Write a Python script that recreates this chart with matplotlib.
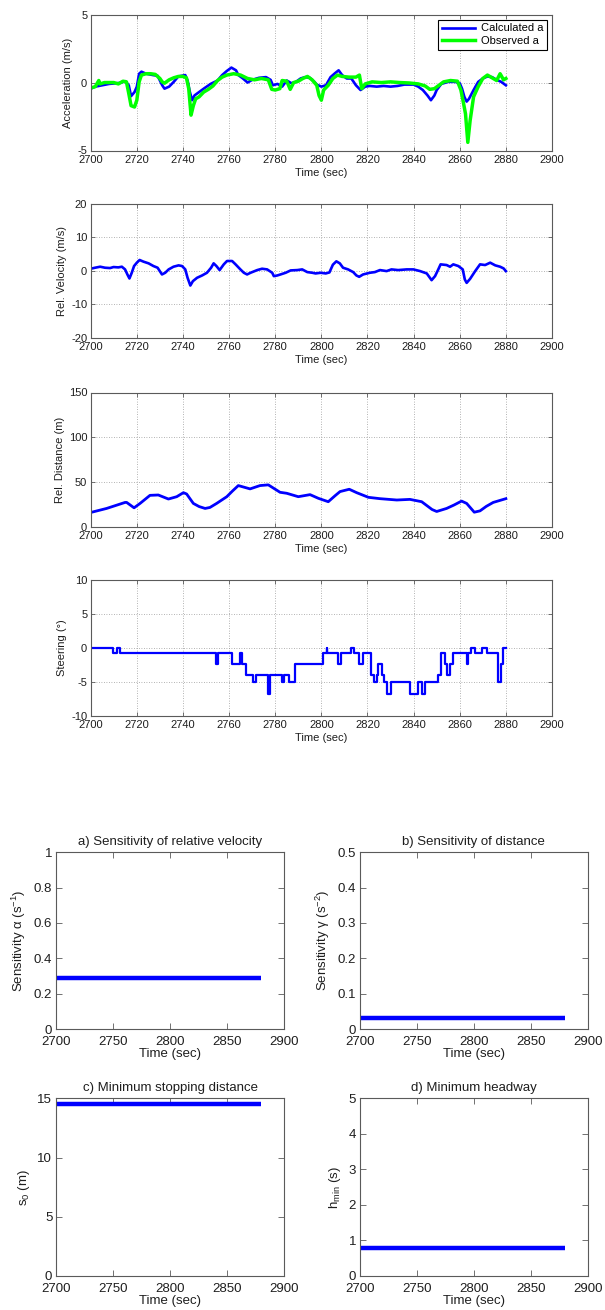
import matplotlib
matplotlib.use("Agg")
import matplotlib.pyplot as plt
from matplotlib.ticker import FuncFormatter

plt.rcParams['font.family'] = ['Liberation Sans', 'DejaVu Sans']
plt.rcParams['mathtext.fontset'] = 'custom'
plt.rcParams['mathtext.rm'] = 'Liberation Sans'
plt.rcParams['mathtext.it'] = 'Liberation Sans:italic'
plt.rcParams['axes.unicode_minus'] = False

# ---------------- data ----------------
# Acceleration: calculated (model) and observed
acc_calc_t = [2700, 2702, 2705, 2708, 2710, 2713, 2715, 2716.5, 2717.5, 2719,
              2720, 2721, 2722, 2724, 2727, 2729, 2731, 2732, 2734, 2736,
              2738, 2741, 2742, 2743, 2744, 2745, 2747, 2749, 2752, 2755,
              2757, 2759, 2761, 2763, 2764, 2766, 2768, 2770, 2773, 2776,
              2778, 2779, 2781, 2783, 2785, 2787, 2789, 2791, 2793, 2795,
              2797, 2798, 2800, 2802, 2804, 2806, 2807.5, 2809, 2811, 2813,
              2815, 2817, 2819, 2821, 2824, 2827, 2830, 2833, 2836, 2840,
              2842, 2844, 2846, 2847.5, 2849, 2850, 2852, 2855, 2858, 2860,
              2861, 2862, 2863, 2864, 2866, 2868, 2870, 2872, 2874, 2876,
              2878, 2880]
acc_calc = [-0.45, -0.3, -0.2, -0.1, -0.07, -0.02, 0.1, -0.2, -1.0, -0.7,
            -0.3, 0.65, 0.8, 0.65, 0.55, 0.5, -0.2, -0.45, -0.3, 0.05,
            0.45, 0.55, 0.15, -0.7, -1.3, -0.95, -0.7, -0.45, -0.1, 0.15,
            0.55, 0.85, 1.1, 0.9, 0.55, 0.3, 0.0, 0.2, 0.35, 0.4,
            0.2, -0.2, -0.1, -0.3, 0.15, -0.05, 0.05, 0.3, 0.4, 0.35,
            0.05, -0.15, -0.3, -0.2, 0.4, 0.7, 0.9, 0.55, 0.3, 0.3,
            -0.2, -0.55, -0.3, -0.25, -0.3, -0.25, -0.3, -0.25, -0.15, -0.15,
            -0.3, -0.55, -0.95, -1.3, -0.95, -0.55, -0.1, 0.05, 0.05, -0.05,
            -0.45, -1.05, -1.4, -1.2, -0.55, 0.05, 0.3, 0.45, 0.4, 0.2,
            0.05, -0.2]

acc_obs_t = [2700, 2702, 2703.5, 2704, 2706, 2708, 2710, 2712, 2714, 2715.5,
             2716.5, 2717.5, 2719, 2720, 2721, 2722, 2724, 2726, 2728, 2730,
             2731, 2732, 2734, 2736, 2738, 2740, 2741.5, 2742.5, 2743.5, 2744.5,
             2745.5, 2747, 2749, 2751, 2753, 2755, 2757, 2759, 2762, 2765,
             2768, 2771, 2774, 2777, 2778.5, 2780, 2782, 2783, 2785, 2786.5,
             2788, 2790, 2792, 2794, 2796, 2798, 2799, 2800, 2801, 2803,
             2805, 2807, 2809, 2812, 2815, 2816.5, 2817.5, 2819, 2822, 2826,
             2830, 2834, 2838, 2842, 2845, 2847, 2849, 2851, 2853, 2856,
             2859, 2860.5, 2861.5, 2862.5, 2863.5, 2864.5, 2866, 2868, 2870, 2872,
             2874, 2876, 2877.5, 2879, 2880]
acc_obs = [-0.4, -0.3, 0.15, -0.1, 0, 0, 0, -0.1, 0.1, 0.05,
           -0.8, -1.7, -1.8, -1.3, 0.05, 0.55, 0.65, 0.65, 0.6, 0.3,
           0.05, -0.05, 0.2, 0.35, 0.45, 0.45, 0.35, -0.45, -2.4, -1.7,
           -1.2, -1.05, -0.7, -0.5, -0.25, 0.15, 0.4, 0.55, 0.65, 0.55,
           0.3, 0.2, 0.3, 0.2, -0.5, -0.55, -0.45, 0.15, 0.1, -0.5,
           0, 0.1, 0.3, 0.45, 0.2, -0.2, -0.95, -1.3, -0.55, -0.2,
           0.3, 0.55, 0.45, 0.4, 0.4, 0.55, -0.45, -0.1, 0.05, 0,
           0.05, 0, -0.03, -0.1, -0.25, -0.5, -0.45, -0.2, 0.05, 0.15,
           0.1, -0.55, -1.4, -2.3, -4.4, -2.8, -1.05, -0.3, 0.3, 0.55,
           0.35, 0.15, 0.65, 0.2, 0.3]

# Relative velocity (m/s)
vel_t = [2700, 2701.9, 2704.1, 2706.2, 2708.4, 2709.9, 2712, 2713.5, 2714.9, 2715.9,
         2716.8, 2717.8, 2718.8, 2720, 2721.2, 2722.9, 2725.1, 2727.2, 2729, 2730.9,
         2732.3, 2733.8, 2735.9, 2738.1, 2739.6, 2741, 2742, 2743.2, 2744.3, 2746.1,
         2748.3, 2750.4, 2752.2, 2753.3, 2754.5, 2755.9, 2757.7, 2759.1, 2761.3, 2762.8,
         2764.9, 2766.4, 2767.8, 2769.3, 2772.2, 2774.3, 2776.5, 2778.7, 2779.4, 2780.9,
         2782.3, 2784.5, 2786.7, 2789.6, 2791.7, 2793.9, 2796.1, 2797.5, 2799.7, 2801.9,
         2803.5, 2805, 2806.5, 2808, 2809.4, 2811.6, 2813.8, 2815.2, 2816.4, 2818.1,
         2821, 2823.2, 2825.4, 2828.3, 2830.4, 2833.3, 2837, 2839.9, 2842.8, 2845.7,
         2847.8, 2849.3, 2850.7, 2851.7, 2854.3, 2855.8, 2857.2, 2859.4, 2861.3, 2862.2,
         2863, 2864.5, 2866.7, 2868.8, 2871, 2873.2, 2875.4, 2877.5, 2879, 2880]
vel = [0.6, 0.9, 1.2, 0.9, 0.8, 1.1, 1.0, 1.2, 0.4, -1.1,
       -2.3, -0.6, 1.4, 2.4, 3.2, 2.7, 2.2, 1.4, 0.9, -1.1,
       -0.6, 0.4, 1.2, 1.6, 1.4, 0.4, -2.1, -4.4, -3.1, -2.1,
       -1.4, -0.6, 0.9, 2.2, 1.4, 0.2, 1.9, 2.9, 2.9, 1.9,
       0.4, -0.6, -1.1, -0.6, 0.2, 0.6, 0.4, -0.6, -1.6, -1.4,
       -1.1, -0.6, 0.1, 0.2, 0.4, -0.4, -0.6, -0.8, -0.6, -0.8,
       -0.5, 1.8, 2.8, 2.2, 0.9, 0.4, -0.4, -1.4, -1.8, -1.1,
       -0.6, -0.4, 0.2, -0.1, 0.4, 0.2, 0.4, 0.4, -0.1, -0.8,
       -2.8, -1.6, 0.4, 1.9, 1.7, 1.2, 1.9, 1.4, 0.4, -2.6,
       -3.6, -2.4, -0.1, 1.9, 1.7, 2.4, 1.6, 1.2, 0.7, -0.1]

# Relative distance (m)
dist_t = [2700, 2706.9, 2714.9, 2715.6, 2718.8, 2721.4, 2725.7, 2729.3, 2733.7, 2737.3,
          2740.2, 2741.6, 2744.5, 2747, 2749.6, 2751.7, 2754.6, 2759, 2761.5, 2764,
          2769.1, 2773.4, 2777, 2782.1, 2785, 2790, 2795.1, 2798.7, 2803, 2806,
          2808.1, 2812.1, 2815.3, 2820.4, 2825.4, 2832.7, 2838.4, 2843.5, 2846.4, 2848,
          2850, 2854.3, 2857.5, 2860.8, 2863, 2866.3, 2868.8, 2871.5, 2874.5, 2880]
dist = [16.2, 20.7, 27.4, 27.4, 21.4, 26.3, 35.3, 35.7, 31.2, 33.8,
        38.3, 36.8, 26.3, 22.8, 20.7, 21.8, 26.3, 33.8, 40.2, 46.2,
        42.5, 46.2, 47, 38.7, 37.6, 33.8, 36.1, 32, 28.2, 35,
        39.5, 42.1, 38.3, 33.1, 31.6, 30.1, 30.8, 28.2, 22.6, 19.5,
        17.3, 20.7, 24.5, 28.9, 26.3, 16.5, 18, 23, 27.4, 31.6]

# Steering angle (deg), piecewise constant: value holds from each time onward
steer_t = [2700, 2709.8, 2711.3, 2712.7, 2754.3, 2755.2, 2761.1, 2764.7, 2765.8, 2767.3,
           2770.5, 2771.5, 2776.7, 2777.7, 2782.8, 2783.8, 2786.1, 2788.6, 2800.9, 2802.3,
           2802.6, 2807.4, 2808.4, 2812.7, 2814.2, 2816.5, 2817.9, 2821.4, 2822.8, 2824,
           2824.7, 2826.2, 2827.2, 2828.3, 2830.1, 2838.4, 2842.1, 2843.5, 2844.9, 2850.7,
           2851.7, 2853.6, 2854.6, 2855.8, 2857.2, 2863, 2863.7, 2864.7, 2866.6, 2869.5,
           2871.7, 2876.7, 2877.7, 2878.9, 2880]
steer = [0, -0.7, 0, -0.7, -2.3, -0.7, -2.3, -0.7, -2.3, -4,
         -5, -4, -6.7, -4, -5, -4, -5, -2.3, -0.7, 0,
         -0.7, -2.3, -0.7, 0, -0.7, -2.3, -0.7, -4, -5, -4,
         -2.3, -4, -5, -6.7, -5, -6.7, -5, -6.7, -5, -4,
         -0.7, -2.3, -4, -2.3, -0.7, -2.3, -0.7, 0, -0.7, 0,
         -0.7, -5, -2.3, 0, 0]

# Calibrated model parameters over the run
param_t = [2700, 2880]
alpha = 0.29      # sensitivity of relative velocity (1/s)
gamma = 0.032     # sensitivity of distance (1/s^2)
s0 = 14.55        # minimum stopping distance (m)
hmin = 0.79       # minimum headway (s)

# ---------------- styling ----------------
BLUE = '#0000ff'
GREEN = '#00ff00'
FRAME = '#5a5a5a'
TEXT = '#1e1e1e'
W, H = 605, 1310

fig = plt.figure(figsize=(W / 100, H / 100), dpi=100)
fmt = FuncFormatter(lambda v, p: f'{v:g}')


def px_axes(left, top, right, bottom):
    return fig.add_axes([left / W, 1 - bottom / H, (right - left) / W, (bottom - top) / H])


def style(ax, fs, ticklen, grid, xpad, ypad):
    for s in ax.spines.values():
        s.set_color(FRAME)
        s.set_linewidth(0.8)
    ax.tick_params(direction='in', top=True, right=True, length=ticklen,
                   width=0.6, color=FRAME, labelcolor=TEXT, labelsize=fs)
    ax.tick_params(axis='x', pad=xpad)
    ax.tick_params(axis='y', pad=ypad)
    ax.xaxis.set_major_formatter(fmt)
    ax.yaxis.set_major_formatter(fmt)
    if grid:
        ax.grid(True, linestyle=(0, (1, 2)), color='#9a9a9a', linewidth=0.6)


# ---- stacked time series ----
TL, TR = 90.7, 552.0
rows = [(14.6, 150.5), (203.5, 338.0), (392.5, 527.0), (580.0, 716.0)]
top_axes = [px_axes(TL, t, TR, b) for t, b in rows]
FS_TOP = 8

ax = top_axes[0]
ax.plot(acc_calc_t, acc_calc, color=BLUE, lw=1.9, label='Calculated a')
ax.plot(acc_obs_t, acc_obs, color=GREEN, lw=2.5, label='Observed a')
ax.set_ylim(-5, 5)
ax.set_yticks([-5, 0, 5])
ax.set_ylabel('Acceleration (m/s)', fontsize=FS_TOP, color=TEXT, labelpad=3)
leg = ax.legend(loc='upper right', fontsize=FS_TOP, frameon=True, fancybox=False,
                edgecolor='black', framealpha=1, handlelength=3.0, borderpad=0.35,
                labelspacing=0.25, borderaxespad=0.45, handletextpad=0.5)
leg.get_frame().set_linewidth(0.8)

ax = top_axes[1]
ax.plot(vel_t, vel, color=BLUE, lw=1.9)
ax.set_ylim(-20, 20)
ax.set_yticks([-20, -10, 0, 10, 20])
ax.set_ylabel('Rel. Velocity (m/s)', fontsize=FS_TOP, color=TEXT, labelpad=3)

ax = top_axes[2]
ax.plot(dist_t, dist, color=BLUE, lw=2.0)
ax.set_ylim(0, 150)
ax.set_yticks([0, 50, 100, 150])
ax.set_ylabel('Rel. Distance (m)', fontsize=FS_TOP, color=TEXT, labelpad=3)

ax = top_axes[3]
ax.plot(steer_t, steer, color=BLUE, lw=1.6, drawstyle='steps-post')
ax.set_ylim(-10, 10)
ax.set_yticks([-10, -5, 0, 5, 10])
ax.set_ylabel('Steering (°)', fontsize=FS_TOP, color=TEXT, labelpad=3)

for ax in top_axes:
    ax.set_xlim(2700, 2900)
    ax.set_xticks(range(2700, 2901, 20))
    style(ax, FS_TOP, 3, True, 3.2, 2.5)
    ax.set_xlabel('Time (sec)', fontsize=FS_TOP, color=TEXT, labelpad=2)

# ---- parameter panels ----
FS_BOT = 9.5
AL, AR, BL, BR = 55.8, 284.3, 359.6, 588.1
pa = px_axes(AL, 852.3, AR, 1029.0)
pb = px_axes(BL, 852.3, BR, 1029.0)
pc = px_axes(AL, 1098.3, AR, 1276.0)
pd = px_axes(BL, 1098.3, BR, 1276.0)

panels = [
    (pa, alpha, (0, 1), [0, 0.2, 0.4, 0.6, 0.8, 1],
     'a) Sensitivity of relative velocity', 'Sensitivity α (s$^{-1}$)'),
    (pb, gamma, (0, 0.5), [0, 0.1, 0.2, 0.3, 0.4, 0.5],
     'b) Sensitivity of distance', 'Sensitivity γ (s$^{-2}$)'),
    (pc, s0, (0, 15), [0, 5, 10, 15],
     'c) Minimum stopping distance', r's$_0$ (m)'),
    (pd, hmin, (0, 5), [0, 1, 2, 3, 4, 5],
     'd) Minimum headway', r'h$_{\mathrm{min}}$ (s)'),
]
for ax, val, ylim, yt, title, ylab in panels:
    ax.plot(param_t, [val, val], color=BLUE, lw=3.2, solid_capstyle='butt')
    ax.set_xlim(2700, 2900)
    ax.set_xticks(range(2700, 2901, 50))
    ax.set_ylim(*ylim)
    ax.set_yticks(yt)
    style(ax, FS_BOT, 4, False, 5.2, 2.5)
    ax.set_title(title, fontsize=9.5, color=TEXT, pad=5)
    ax.set_ylabel(ylab, fontsize=9.5, color=TEXT, labelpad=4)
    ax.set_xlabel('Time (sec)', fontsize=9.5, color=TEXT, labelpad=0)

fig.savefig('out.png', dpi=100, facecolor='white')
